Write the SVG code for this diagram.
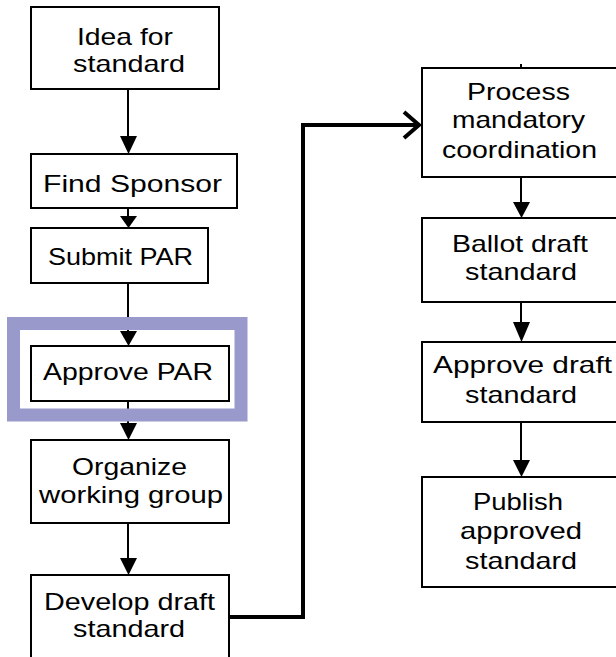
<svg xmlns="http://www.w3.org/2000/svg" width="616" height="657" viewBox="0 0 616 657">
<style>
.box{fill:#fff;stroke:#000;stroke-width:2}
.t{font-family:"Liberation Sans",Arial,sans-serif;font-size:24px;fill:#000}
.ln{stroke:#000;stroke-width:2;fill:none}
.thick{stroke:#000;stroke-width:4;fill:none}
.hd{fill:#000}
</style>
<rect width="616" height="657" fill="#fff"/>
<g id="connectors">
<line class="ln" x1="128" y1="89" x2="128" y2="140"/>
<polygon class="hd" points="120,136 137,136 128.5,154"/>
<line class="ln" x1="128" y1="208" x2="128" y2="220"/>
<polygon class="hd" points="120,216 137,216 128.5,228"/>
<line class="ln" x1="128" y1="283" x2="128" y2="335"/>
<polygon class="hd" points="120,331 137,331 128.5,346"/>
<line class="ln" x1="128" y1="401" x2="128" y2="426"/>
<polygon class="hd" points="120,423 137,423 128.5,440"/>
<line class="ln" x1="128" y1="523" x2="128" y2="561"/>
<polygon class="hd" points="120,558 137,558 128.5,575"/>
<line class="ln" x1="521" y1="64" x2="521" y2="68"/>
<line class="ln" x1="521" y1="177" x2="521" y2="205"/>
<polygon class="hd" points="513,202 530,202 521.5,218"/>
<line class="ln" x1="521" y1="302" x2="521" y2="325"/>
<polygon class="hd" points="513,322 530,322 521.5,342"/>
<line class="ln" x1="521" y1="422" x2="521" y2="463"/>
<polygon class="hd" points="513,460 530,460 521.5,477"/>
<polyline class="thick" points="229,617 303,617 303,125 419,125"/>
<polyline class="thick" points="404,112 419,125 404,138"/>
</g>
<g id="n-idea">
<rect class="box" x="31" y="7" width="188" height="82"/>
<text class="t" x="77" y="45" textLength="96" lengthAdjust="spacingAndGlyphs">Idea for</text>
<text class="t" x="73" y="72" textLength="112" lengthAdjust="spacingAndGlyphs">standard</text>
</g>
<g id="n-sponsor">
<rect class="box" x="31" y="154" width="206" height="54"/>
<text class="t" x="43" y="192" textLength="179" lengthAdjust="spacingAndGlyphs">Find Sponsor</text>
</g>
<g id="n-submit">
<rect class="box" x="31" y="228" width="177" height="55"/>
<text class="t" x="48" y="265" textLength="145" lengthAdjust="spacingAndGlyphs">Submit PAR</text>
</g>
<g id="n-approvepar">
<rect class="box" x="31" y="346" width="198" height="55"/>
<text class="t" x="43" y="380" textLength="170" lengthAdjust="spacingAndGlyphs">Approve PAR</text>
</g>
<g id="highlight">
<rect x="13.5" y="323.5" width="227.5" height="91.5" fill="none" stroke="#9999cc" stroke-width="13"/>
</g>
<g id="n-organize">
<rect class="box" x="31" y="440" width="198" height="83"/>
<text class="t" x="72" y="475" textLength="115" lengthAdjust="spacingAndGlyphs">Organize</text>
<text class="t" x="39" y="503" textLength="184" lengthAdjust="spacingAndGlyphs">working group</text>
</g>
<g id="n-develop">
<rect class="box" x="31" y="575" width="198" height="100"/>
<text class="t" x="44" y="610" textLength="171" lengthAdjust="spacingAndGlyphs">Develop draft</text>
<text class="t" x="73" y="637" textLength="112" lengthAdjust="spacingAndGlyphs">standard</text>
</g>
<g id="n-process">
<rect class="box" x="422" y="68" width="200" height="109"/>
<text class="t" x="467" y="100" textLength="103" lengthAdjust="spacingAndGlyphs">Process</text>
<text class="t" x="452" y="128" textLength="133" lengthAdjust="spacingAndGlyphs">mandatory</text>
<text class="t" x="442" y="158" textLength="155" lengthAdjust="spacingAndGlyphs">coordination</text>
</g>
<g id="n-ballot">
<rect class="box" x="422" y="218" width="200" height="84"/>
<text class="t" x="452" y="252" textLength="136" lengthAdjust="spacingAndGlyphs">Ballot draft</text>
<text class="t" x="465" y="280" textLength="112" lengthAdjust="spacingAndGlyphs">standard</text>
</g>
<g id="n-approvedraft">
<rect class="box" x="422" y="342" width="200" height="80"/>
<text class="t" x="433" y="373" textLength="179" lengthAdjust="spacingAndGlyphs">Approve draft</text>
<text class="t" x="465" y="403" textLength="112" lengthAdjust="spacingAndGlyphs">standard</text>
</g>
<g id="n-publish">
<rect class="box" x="422" y="477" width="200" height="110"/>
<text class="t" x="473" y="510" textLength="90" lengthAdjust="spacingAndGlyphs">Publish</text>
<text class="t" x="460" y="539" textLength="122" lengthAdjust="spacingAndGlyphs">approved</text>
<text class="t" x="465" y="569" textLength="112" lengthAdjust="spacingAndGlyphs">standard</text>
</g>
</svg>
